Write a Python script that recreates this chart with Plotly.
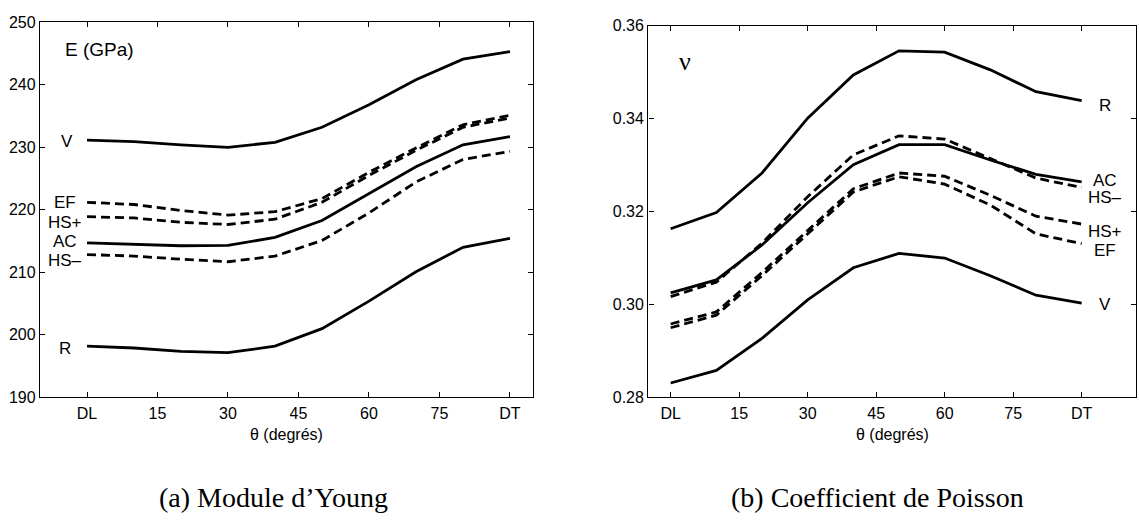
import plotly.graph_objects as go

# Orientation angles (degrees from the rolling direction DL to the transverse direction DT)
theta = [0, 10, 20, 30, 40, 50, 60, 70, 80, 90]
tick_vals = [0, 15, 30, 45, 60, 75, 90]
tick_text = ["DL", "15", "30", "45", "60", "75", "DT"]

# Young's modulus E (GPa) for each homogenisation model
E_V = [231.15, 230.9, 230.4, 230.0, 230.8, 233.2, 236.8, 240.8, 244.1, 245.3]
E_EF = [221.2, 220.85, 219.9, 219.15, 219.7, 221.8, 226.0, 229.9, 233.6, 235.1]
E_HSp = [218.9, 218.7, 218.0, 217.65, 218.5, 221.2, 225.5, 229.5, 233.2, 234.7]
E_AC = [214.7, 214.5, 214.25, 214.3, 215.6, 218.3, 222.6, 226.9, 230.4, 231.7]
E_HSm = [212.85, 212.6, 212.1, 211.7, 212.6, 215.1, 219.5, 224.45, 228.05, 229.35]
E_R = [198.2, 197.9, 197.35, 197.15, 198.2, 201.0, 205.4, 210.1, 214.0, 215.45]

# Poisson's ratio nu for each model
nu_R = [0.3163, 0.3198, 0.3283, 0.3401, 0.3494, 0.3546, 0.3543, 0.3505, 0.3458, 0.3439]
nu_AC = [0.3025, 0.3053, 0.3128, 0.3219, 0.3301, 0.3344, 0.3344, 0.3311, 0.3280, 0.3264]
nu_HSm = [0.3017, 0.3048, 0.3132, 0.3232, 0.3322, 0.3363, 0.3356, 0.3314, 0.3272, 0.3252]
nu_HSp = [0.2958, 0.2984, 0.3069, 0.3160, 0.3249, 0.3283, 0.3276, 0.3235, 0.3190, 0.3173]
nu_EF = [0.2950, 0.2977, 0.3062, 0.3152, 0.3242, 0.3275, 0.3259, 0.3214, 0.3152, 0.3131]
nu_V = [0.2831, 0.2858, 0.2927, 0.3010, 0.3079, 0.3110, 0.3100, 0.3062, 0.3020, 0.3003]

model_names = ["V", "EF", "HS+", "AC", "HS\u2013", "R"]
E_series = [E_V, E_EF, E_HSp, E_AC, E_HSm, E_R]
nu_series = [nu_V, nu_EF, nu_HSp, nu_AC, nu_HSm, nu_R]
dashed = {"EF", "HS+", "HS\u2013"}

# Where each curve's name is written (left of panel a, right of panel b)
E_label_y = {"V": 231.0, "EF": 221.2, "HS+": 218.0, "AC": 214.9, "HS\u2013": 211.9, "R": 197.9}
nu_label_y = {"R": 0.3429, "AC": 0.3267, "HS\u2013": 0.3231, "HS+": 0.3157, "EF": 0.3117, "V": 0.2999}

SANS = "Liberation Sans, Arial, sans-serif"
SERIF = "Liberation Serif, Times New Roman, serif"
W, H = 1139, 523


def line_style(name):
    if name in dashed:
        return dict(color="black", width=2.8, dash="9px,5px")
    return dict(color="black", width=2.8)


fig = go.Figure()
for name, ys in zip(model_names, E_series):
    fig.add_trace(go.Scatter(x=theta, y=ys, mode="lines", line=line_style(name),
                             xaxis="x", yaxis="y", showlegend=False, name=name))
for name, ys in zip(model_names, nu_series):
    fig.add_trace(go.Scatter(x=theta, y=ys, mode="lines", line=line_style(name),
                             xaxis="x2", yaxis="y2", showlegend=False, name=name))

axis_common = dict(showline=True, linecolor="black", linewidth=1.4, mirror="ticks",
                   ticks="inside", ticklen=5, tickwidth=1, tickcolor="black",
                   showgrid=False, zeroline=False,
                   tickfont=dict(family=SANS, size=16, color="black"))

bottom = 1 - 402.5 / H
fig.update_layout(
    width=W, height=H,
    margin=dict(l=0, r=0, t=0, b=0),
    paper_bgcolor="white", plot_bgcolor="white",
    xaxis=dict(domain=[40 / W, 533 / W], range=[-10, 94.9], anchor="y",
               tickvals=tick_vals, ticktext=tick_text, ticklabelstandoff=1, **axis_common),
    yaxis=dict(domain=[bottom, 1 - 14.7 / H], range=[190, 250], anchor="x",
               tickvals=[190, 200, 210, 220, 230, 240, 250], **axis_common),
    xaxis2=dict(domain=[648.3 / W, 1136 / W], range=[-4.9, 101.9], anchor="y2",
                tickvals=tick_vals, ticktext=tick_text, ticklabelstandoff=1, **axis_common),
    yaxis2=dict(domain=[bottom, 1 - 18.3 / H], range=[0.28, 0.36], anchor="x2",
                tickvals=[0.28, 0.30, 0.32, 0.34, 0.36], tickformat=".2f", **axis_common),
)

ann = []
for name in model_names:
    ann.append(dict(x=-4.3 if name == "V" else -4.7, y=E_label_y[name], xref="x", yref="y",
                    text=name, showarrow=False, xanchor="center", yanchor="middle",
                    font=dict(family=SANS, size=17, color="black")))
    ann.append(dict(x=95.2, y=nu_label_y[name], xref="x2", yref="y2",
                    text=name, showarrow=False, xanchor="center", yanchor="middle",
                    font=dict(family=SANS, size=17, color="black")))

ann.append(dict(x=-5.1, y=245.6, xref="x", yref="y", text="E (GPa)", showarrow=False,
                xanchor="left", yanchor="middle", font=dict(family=SANS, size=19, color="black")))
ann.append(dict(x=3.1, y=0.3524, xref="x2", yref="y2", text="\u03bd", showarrow=False,
                xanchor="center", yanchor="middle", font=dict(family=SERIF, size=26, color="black")))

for cx in (286.5 / W, 892 / W):
    ann.append(dict(x=cx, y=1 - 441 / H, xref="paper", yref="paper", text="\u03b8 (degr\u00e9s)",
                    showarrow=False, xanchor="center", yanchor="middle",
                    font=dict(family=SANS, size=16, color="black")))

ann.append(dict(x=273.5 / W, y=1 - 506 / H, xref="paper", yref="paper",
                text="(a) Module d\u2019Young", showarrow=False, xanchor="center", yanchor="middle",
                font=dict(family=SERIF, size=28, color="black")))
ann.append(dict(x=729 / W, y=1 - 506 / H, xref="paper", yref="paper",
                text="(b) Coefficient de Poisson", showarrow=False, xanchor="left", yanchor="middle",
                font=dict(family=SERIF, size=28, color="black")))

fig.update_layout(annotations=ann)
fig.write_html("out.html")
